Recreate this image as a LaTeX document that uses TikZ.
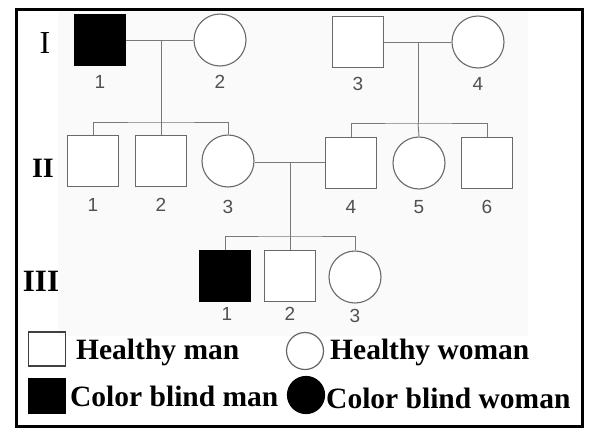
\documentclass[tikz,border=0pt]{standalone}
\usepackage{fontspec}
\setmainfont{Liberation Serif}
\newfontfamily\numfont{Liberation Sans}
\usetikzlibrary{positioning}

\definecolor{pedline}{RGB}{120,120,120}
\definecolor{pedsym}{RGB}{105,105,105}
\definecolor{pednum}{RGB}{80,80,80}
\definecolor{paper}{RGB}{250,250,250}

\tikzset{
  male/.style={draw=pedsym, line width=1.1pt, fill=white, rectangle, minimum size=51pt, inner sep=0pt},
  female/.style={draw=pedsym, line width=1.1pt, fill=white, circle, minimum size=52pt, inner sep=0pt},
  affected/.style={fill=black, draw=black},
  link/.style={draw=pedline, line width=0.9pt},
  idnum/.style={text=pednum, font=\numfont\fontsize{19}{21}\selectfont, inner sep=0pt},
  gen/.style={font=\bfseries\fontsize{31}{34}\selectfont, inner sep=0pt},
  legtext/.style={font=\bfseries\fontsize{29.5}{32}\selectfont, inner sep=0pt, anchor=base west},
  legbox/.style={rectangle, draw=black!75, line width=1.4pt, minimum width=37pt, minimum height=34pt, inner sep=0pt},
  legdot/.style={circle, draw=black!60, line width=1.2pt, minimum size=37pt, inner sep=0pt},
}

\begin{document}
\begin{tikzpicture}[x=1pt, y=-1pt]
  \useasboundingbox (0,0) rectangle (590,429);
  \fill[white] (0,0) rectangle (590,429);
  % faint paper tone behind the pedigree
  \fill[paper] (58,10) rectangle (528,336);

  % generation labels
  \node[font=\fontsize{32}{34}\selectfont, inner sep=0pt] (g1) at (45,43) {I};
  \node[gen, font=\bfseries\fontsize{28}{30}\selectfont] (g2) at (43,168) {II};
  \node[gen] (g3) at (41,281) {III};

  % generation I
  \node[male, affected] (i1) at (100,40) {};
  \node[female] (i2) at (220,40) {};
  \node[male] (i3) at (358,42) {};
  \node[female] (i4) at (478,42) {};

  % generation II
  \node[male] (ii1) at (93,161) {};
  \node[male] (ii2) at (161,161) {};
  \node[female] (ii3) at (228,161) {};
  \node[male] (ii4) at (351,163) {};
  \node[female] (ii5) at (419,163) {};
  \node[male] (ii6) at (487,163) {};

  % generation III
  \node[male, affected] (iii1) at (225,276) {};
  \node[male] (iii2) at (290,276) {};
  \node[female] (iii3) at (355,277) {};

  % individual numbers
  \node[idnum] (n-i1) at (100,82) {1};
  \node[idnum] (n-i2) at (220,82) {2};
  \node[idnum] (n-i3) at (358,84) {3};
  \node[idnum] (n-i4) at (478,84) {4};
  \node[idnum] (n-ii1) at (93,205) {1};
  \node[idnum] (n-ii2) at (161,205) {2};
  \node[idnum] (n-ii3) at (228,207) {3};
  \node[idnum] (n-ii4) at (351,207) {4};
  \node[idnum] (n-ii5) at (419,207) {5};
  \node[idnum] (n-ii6) at (487,207) {6};
  \node[idnum] (n-iii1) at (227,314) {1};
  \node[idnum] (n-iii2) at (290,314) {2};
  \node[idnum] (n-iii3) at (355,316) {3};

  % couples and their descent points
  \coordinate (c1) at (161,40);
  \coordinate (s1) at (161,122);
  \coordinate (c2) at (418,42);
  \coordinate (s2) at (418,123);
  \coordinate (c3) at (290,162);
  \coordinate (s3) at (290,236);

  \draw[link] (i1) -- (i2);
  \draw[link] (c1) -- (s1);
  \draw[link] (ii1.north) |- (s1) -| (ii3.north);
  \draw[link] (s1) -- (ii2.north);

  \draw[link] (i3) -- (i4);
  \draw[link] (c2) -- (s2);
  \draw[link] (ii4.north) |- (s2) -| (ii6.north);
  \draw[link] (s2) -- (ii5.north);

  \draw[link] (ii3.east |- c3) -- (ii4.west |- c3);
  \draw[link] (c3) -- (s3);
  \draw[link] (iii1.north) |- (s3) -| (iii3.north);
  \draw[link] (s3) -- (iii2.north);

  % legend
  \node[legbox] (k1) at (47,349) {};
  \node[legtext] (t1) at (76,359) {Healthy man};
  \node[legdot] (k2) at (305,351) {};
  \node[legtext] (t2) at (330,359) {Healthy woman};
  \node[legbox, fill=black, draw=black] (k3) at (47,396) {};
  \node[legtext] (t3) at (70,406) {Color blind man};
  \node[legdot, fill=black, draw=black] (k4) at (306,395) {};
  \node[legtext] (t4) at (326,408) {Color blind woman};

  % outer frame
  \draw[line width=3pt] (16,9) rectangle (582,426);
\end{tikzpicture}
\end{document}
